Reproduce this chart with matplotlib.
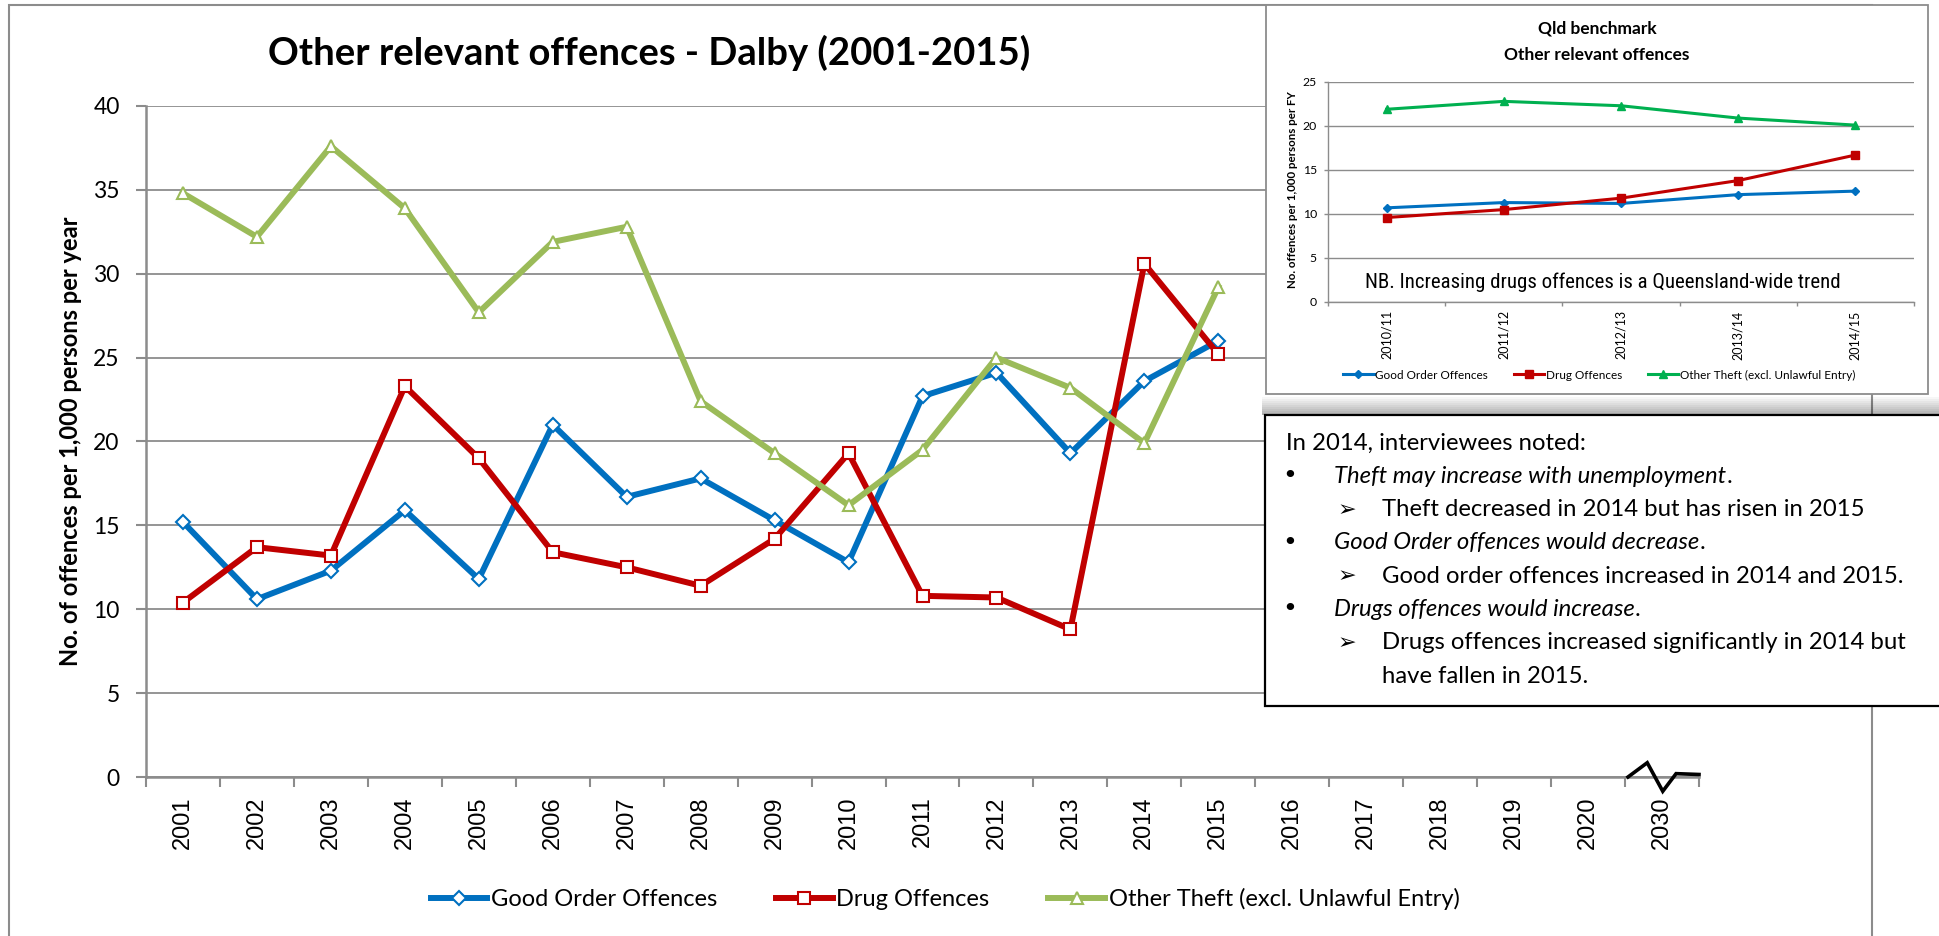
import matplotlib
matplotlib.use("Agg")
import matplotlib.pyplot as plt
from matplotlib import font_manager
from matplotlib.patches import Rectangle

# ---------------- data ----------------
year_labels = ['2001', '2002', '2003', '2004', '2005', '2006', '2007', '2008', '2009', '2010',
               '2011', '2012', '2013', '2014', '2015', '2016', '2017', '2018', '2019', '2020', '2030']
good_order = [15.2, 10.6, 12.3, 15.9, 11.8, 21.0, 16.7, 17.8, 15.3, 12.8, 22.7, 24.1, 19.3, 23.6, 26.0]
drug = [10.4, 13.7, 13.2, 23.3, 19.0, 13.4, 12.5, 11.4, 14.2, 19.3, 10.8, 10.7, 8.8, 30.6, 25.2]
theft = [34.8, 32.2, 37.6, 33.9, 27.7, 31.9, 32.8, 22.4, 19.3, 16.2, 19.5, 25.0, 23.2, 19.9, 29.2]
series_names = ['Good Order Offences', 'Drug Offences', 'Other Theft (excl. Unlawful Entry)']

fy_labels = ['2010/11', '2011/12', '2012/13', '2013/14', '2014/15']
qld_good = [10.7, 11.3, 11.2, 12.2, 12.6]
qld_drug = [9.6, 10.5, 11.8, 13.8, 16.7]
qld_theft = [21.9, 22.8, 22.3, 20.9, 20.1]

# hand-drawn axis-break squiggle near the "2030" category (data units)
break_x = [19.54, 19.8, 20.01, 20.19, 20.5]
break_y = [0.0, 0.85, -0.85, 0.2, 0.15]

note_lines = [
    ('head', 'In 2014, interviewees noted:'),
    ('bullet', 'Theft may increase with unemployment'),
    ('arrow', 'Theft decreased in 2014 but has risen in 2015'),
    ('bullet', 'Good Order offences would decrease'),
    ('arrow', 'Good order offences increased in 2014 and 2015.'),
    ('bullet', 'Drugs offences would increase'),
    ('arrow', 'Drugs offences increased significantly in 2014 but'),
    ('cont', 'have fallen in 2015.'),
]

# ---------------- style ----------------
W, H = 1939, 936
names = {f.name for f in font_manager.fontManager.ttflist}
SANS = 'Lato' if 'Lato' in names else 'DejaVu Sans'
ARIAL = 'Liberation Sans' if 'Liberation Sans' in names else 'DejaVu Sans'
if 'Liberation Sans Narrow' in names:
    NARROW, NB_SIZE = 'Liberation Sans Narrow', 15
elif 'Roboto Condensed' in names:
    NARROW, NB_SIZE = 'Roboto Condensed', 15
else:
    NARROW, NB_SIZE = ARIAL, 13
plt.rcParams['font.family'] = [SANS, 'DejaVu Sans']

BLUE, RED, GREEN = '#0070C0', '#C00000', '#9BBB59'
QGREEN = '#00B050'
GRID = '#8C8C8C'
NOTE_FS = 17.2


def fx(x):
    return x / W


def fy(y):
    return 1 - y / H


fig = plt.figure(figsize=(W / 100, H / 100), dpi=100)
fig.patch.set_facecolor('white')

# outer chart frame
fig.patches.append(Rectangle((fx(9), fy(945)), fx(1872) - fx(9), fy(5) - fy(945),
                             transform=fig.transFigure, fill=False, edgecolor=GRID,
                             lw=1.5, zorder=0.5))

# ---------------- main axes ----------------
ax = fig.add_axes([fx(146), fy(777), fx(1699) - fx(146), fy(106) - fy(777)])
ax.set_zorder(1)
ax.patch.set_alpha(0)
ax.set_xlim(-0.5, len(year_labels) - 0.5)
ax.set_ylim(0, 40)
ax.set_yticks(range(0, 41, 5))
ax.set_xticks(range(len(year_labels)))
ax.set_xticklabels(year_labels, rotation=90, fontsize=17, family=ARIAL)
ax.set_xticks([i - 0.5 for i in range(len(year_labels) + 1)], minor=True)
ax.tick_params(axis='x', which='major', length=0, pad=14)
ax.tick_params(axis='x', which='minor', length=7, width=1.5, color=GRID, direction='out')
ax.tick_params(axis='y', length=7, width=1.5, color=GRID, pad=12, labelsize=16.5)
for s in ['top', 'right']:
    ax.spines[s].set_visible(False)
for s in ['left', 'bottom']:
    ax.spines[s].set_color(GRID)
    ax.spines[s].set_linewidth(1.8)
ax.yaxis.grid(True, color=GRID, lw=1.3)
ax.set_axisbelow(True)

xs = range(len(good_order))
ax.plot(xs, good_order, color=BLUE, lw=4.3, marker='D', ms=7, mfc='white', mec=BLUE, mew=1.5,
        label=series_names[0], zorder=3)
ax.plot(xs, drug, color=RED, lw=4.3, marker='s', ms=8.5, mfc='white', mec=RED, mew=1.5,
        label=series_names[1], zorder=3)
ax.plot(xs, theft, color=GREEN, lw=4.3, marker='^', ms=9, mfc='white', mec=GREEN, mew=1.5,
        label=series_names[2], zorder=3)

ax.plot(break_x, break_y, color='black', lw=2.6, clip_on=False, zorder=5,
        solid_joinstyle='miter')

fig.legend(*ax.get_legend_handles_labels(), loc='center', ncol=3,
           bbox_to_anchor=(fx(945), fy(899)), frameon=False, fontsize=17,
           handlelength=2.4, handletextpad=0.15, columnspacing=2.5)

fig.text(fx(649), fy(53), 'Other relevant offences - Dalby (2001-2015)', fontsize=27.5,
         fontweight='bold', ha='center', va='center')
fig.text(fx(71), fy(441), 'No. of offences per 1,000 persons per year', fontsize=17,
         fontweight='bold', rotation=90, ha='center', va='center')

# ---------------- inset (Qld benchmark) ----------------
fig.patches.append(Rectangle((fx(1266), fy(394)), fx(1928) - fx(1266), fy(5) - fy(394),
                             transform=fig.transFigure, facecolor='white', edgecolor=GRID,
                             lw=1.3, zorder=2))
iax = fig.add_axes([fx(1328), fy(302), fx(1914) - fx(1328), fy(82) - fy(302)])
iax.set_zorder(3)
iax.patch.set_alpha(0)
iax.set_xlim(-0.5, len(fy_labels) - 0.5)
iax.set_ylim(0, 25)
iax.set_yticks(range(0, 26, 5))
iax.set_xticks(range(len(fy_labels)))
iax.set_xticklabels(fy_labels, rotation=90, fontsize=9)
iax.set_xticks([i - 0.5 for i in range(len(fy_labels) + 1)], minor=True)
iax.tick_params(axis='x', which='major', length=0, pad=6)
iax.tick_params(axis='x', which='minor', length=3, width=1, color=GRID)
iax.tick_params(axis='y', length=3, width=1, color=GRID, pad=5, labelsize=8.8)
for s in ['top', 'right']:
    iax.spines[s].set_visible(False)
for s in ['left', 'bottom']:
    iax.spines[s].set_color(GRID)
    iax.spines[s].set_linewidth(1)
iax.yaxis.grid(True, color=GRID, lw=1)
iax.set_axisbelow(True)
ixs = range(len(fy_labels))
iax.plot(ixs, qld_good, color=BLUE, lw=2.2, marker='D', ms=4, label=series_names[0])
iax.plot(ixs, qld_drug, color=RED, lw=2.2, marker='s', ms=5.5, label=series_names[1])
iax.plot(ixs, qld_theft, color=QGREEN, lw=2.2, marker='^', ms=5.5, label=series_names[2])
iax.legend(loc='center', ncol=3, bbox_to_anchor=(fx(1599), fy(375)),
           bbox_transform=fig.transFigure, frameon=False, fontsize=8.5,
           handlelength=2.6, handletextpad=0.1, columnspacing=2.2)
fig.text(fx(1597), fy(29), 'Qld benchmark', fontsize=12.5, fontweight='bold',
         ha='center', va='center', zorder=4)
fig.text(fx(1597), fy(55), 'Other relevant offences', fontsize=12.5, fontweight='bold',
         ha='center', va='center', zorder=4)
fig.text(fx(1292), fy(190), 'No. offences per 1,000 persons per FY', fontsize=8.3,
         fontweight='bold', rotation=90, ha='center', va='center', zorder=4)
fig.text(fx(1365), fy(282), 'NB. Increasing drugs offences is a Queensland-wide trend',
         fontsize=NB_SIZE, family=NARROW, ha='left', va='center', zorder=4)

# ---------------- note box ----------------
for k in range(9):
    y0 = 397 + 2 * k
    fig.patches.append(Rectangle((fx(1262), fy(y0 + 2)), fx(1950) - fx(1262), fy(y0) - fy(y0 + 2),
                                 transform=fig.transFigure, facecolor='black',
                                 alpha=0.03 + 0.035 * k, lw=0, zorder=4))
fig.patches.append(Rectangle((fx(1265), fy(706)), fx(1960) - fx(1265), fy(415) - fy(706),
                             transform=fig.transFigure, facecolor='white', edgecolor='black',
                             lw=1.6, zorder=5))
y_line = 443
for kind, txt in note_lines:
    if kind == 'head':
        fig.text(fx(1286), fy(y_line), txt, fontsize=NOTE_FS, ha='left', va='center', zorder=6)
    elif kind == 'bullet':
        fig.text(fx(1290), fy(y_line), '\u2022', fontsize=NOTE_FS + 1, ha='center', va='center',
                 zorder=6, family='DejaVu Sans')
        t = fig.text(fx(1334), fy(y_line), txt, fontsize=NOTE_FS, style='italic', ha='left',
                     va='center', zorder=6)
        fig.canvas.draw()
        bb = t.get_window_extent()
        fig.text(bb.x1 / W, fy(y_line), '.', fontsize=NOTE_FS, ha='left', va='center',
                 zorder=6)
    elif kind == 'arrow':
        fig.text(fx(1347), fy(y_line), '\u27a2', fontsize=16, ha='center', va='center',
                 zorder=6, family='DejaVu Sans')
        fig.text(fx(1382), fy(y_line), txt, fontsize=NOTE_FS, ha='left', va='center', zorder=6)
    else:
        fig.text(fx(1382), fy(y_line), txt, fontsize=NOTE_FS, ha='left', va='center', zorder=6)
    y_line += 33.3

fig.savefig('out.png', dpi=100, facecolor='white')
